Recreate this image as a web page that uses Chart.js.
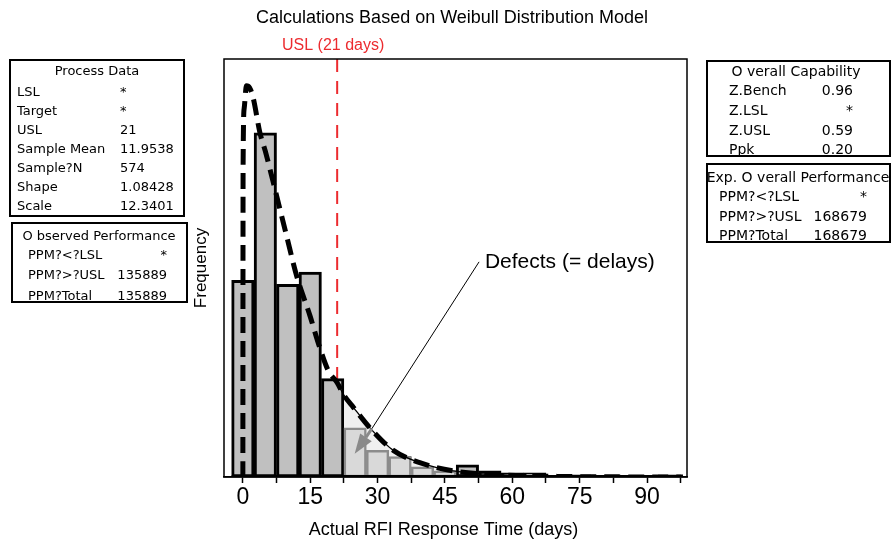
<!DOCTYPE html>
<html>
<head>
<meta charset="utf-8">
<script src="https://cdn.jsdelivr.net/npm/chart.js@4/dist/chart.umd.min.js"></script>
<style>
  html, body { margin: 0; padding: 0; background: #fff; }
  #wrap { position: relative; width: 892px; height: 542px; overflow: hidden; }
  #wrap canvas { position: absolute; left: 0; top: 0; }
  .box { position: absolute; border: 2px solid #000; box-sizing: border-box; }
  .txt { position: absolute; white-space: nowrap; line-height: 16px; font-family: "DejaVu Sans", sans-serif; color: #000; }
</style>
</head>
<body>
<div id="wrap"><canvas id="rfiChart" width="892" height="542"></canvas></div>
<script>
  // histogram bins (days) and counts
  const binCenters = [0, 5, 10, 15, 20, 25, 30, 35, 40, 45, 50, 55, 60, 65, 70, 75, 80, 85, 90, 95];
  const binCounts = [96, 168, 94, 100, 48, 24, 13, 10, 5, 3, 6, 3, 2, 2, 0, 1, 0, 0, 0, 1];
  const binWidth = 5;

  // fitted weibull curve
  const curveX = [0, 0.05, 0.3, 0.8, 1.5, 2.3, 3.8, 5, 6.75, 8, 9.7, 12, 14.9, 17, 19, 21, 22.5, 24.6, 28.7, 33.5, 39.4, 46.8, 58, 70, 85, 98];
  const curveY = [0, 150, 180, 191, 190, 185, 168, 159, 144, 133, 118, 98, 79, 64, 52, 46, 40, 34, 23, 13, 7, 3, 1, 0.3, 0.05, 0];

  const USL = 21;
  const defectsEnd = 47.5;

  const xTicks = [0, 7.5, 15, 22.5, 30, 37.5, 45, 52.5, 60, 67.5, 75, 82.5, 90, 97.5];
  const xTickLabels = [0, 15, 30, 45, 60, 75, 90];

  const processData = [['LSL', '*'], ['Target', '*'], ['USL', '21'], ['Sample Mean', '11.9538'],
    ['Sample?N', '574'], ['Shape', '1.08428'], ['Scale', '12.3401']];
  const observedPerf = [['PPM?<?LSL', '*'], ['PPM?>?USL', '135889'], ['PPM?Total', '135889']];
  const overallCap = [['Z.Bench', '0.96'], ['Z.LSL', '*'], ['Z.USL', '0.59'], ['Ppk', '0.20']];
  const expPerf = [['PPM?<?LSL', '*'], ['PPM?>?USL', '168679'], ['PPM?Total', '168679']];

  // ---- side boxes (html text) ----
  const wrap = document.getElementById('wrap');
  function addText(txt, x, y, size, align) {
    const el = document.createElement('div');
    el.className = 'txt';
    el.textContent = txt;
    el.style.fontSize = size + 'px';
    el.style.top = (y - 8) + 'px';
    if (align === 'right') { el.style.right = (892 - x) + 'px'; }
    else if (align === 'center') { el.style.left = (x - 150) + 'px'; el.style.width = '300px'; el.style.textAlign = 'center'; }
    else { el.style.left = x + 'px'; }
    wrap.appendChild(el);
  }
  function makeBox(b, title, rows) {
    const el = document.createElement('div');
    el.className = 'box';
    el.style.left = b.left + 'px'; el.style.top = b.top + 'px';
    el.style.width = b.w + 'px'; el.style.height = b.h + 'px';
    wrap.appendChild(el);
    addText(title, b.titleX, b.titleY, b.size, 'center');
    rows.forEach((r, i) => {
      const y = b.rowY + i * b.gap;
      addText(r[0], b.labelX, y, b.size);
      addText(r[1], b.valueX, y, b.size, b.valueAlign);
    });
  }
  makeBox({left: 9, top: 59, w: 176, h: 158, titleX: 97, titleY: 71, rowY: 92, gap: 19, labelX: 17, valueX: 120, size: 13},
    'Process Data', processData);
  makeBox({left: 11, top: 222, w: 177, h: 81, titleX: 99, titleY: 236, rowY: 255, gap: 20.3, labelX: 28, valueX: 167, valueAlign: 'right', size: 13},
    'O bserved Performance', observedPerf);
  makeBox({left: 706, top: 60, w: 185, h: 97, titleX: 796, titleY: 71, rowY: 90, gap: 19.8, labelX: 729, valueX: 853, valueAlign: 'right', size: 14},
    'O verall Capability', overallCap);
  makeBox({left: 706, top: 163, w: 185, h: 80, titleX: 798, titleY: 177, rowY: 196, gap: 19.7, labelX: 719, valueX: 867, valueAlign: 'right', size: 14},
    'Exp. O verall Performance', expPerf);

  // ---- chart ----
  const histPoints = binCenters.map((c, i) => ({x: c, y: binCounts[i]}));
  const defectPoints = histPoints.filter(p => p.x - binWidth / 2 >= USL && p.x + binWidth / 2 <= defectsEnd);
  const curvePoints = curveX.map((v, i) => ({x: v, y: curveY[i]}));
  const tailCurve = curvePoints.filter(p => p.x >= USL);
  const tailFill = curvePoints.filter(p => p.x >= USL + 1.5 && p.x <= defectsEnd);
  const baseLine = [{x: binCenters[0] - binWidth / 2, y: 0}, {x: binCenters[binCenters.length - 1] + binWidth / 2, y: 0}];

  const annotation = {text: 'Defects (= delays)', textX: 53.9, textY: 105, lineX: 52.6, tailX: 28.7, tailY: 23.5, tipX: 24.9, tipY: 11.3};

  const decor = {
    id: 'decor',
    beforeDatasetsDraw(chart) {
      const {ctx, chartArea: a, scales: {x}} = chart;
      const px = x.getPixelForValue(USL);
      ctx.save();
      ctx.strokeStyle = '#ec2b2f';
      ctx.lineWidth = 2;
      ctx.setLineDash([13, 9]);
      ctx.beginPath();
      ctx.moveTo(px, a.top);
      ctx.lineTo(px, a.bottom);
      ctx.stroke();
      ctx.restore();
    },
    afterDatasetsDraw(chart) {
      const {ctx, chartArea: a, scales: {x, y}} = chart;
      ctx.save();
      ctx.strokeStyle = '#000';
      ctx.lineWidth = 1.5;
      ctx.strokeRect(a.left, a.top, a.right - a.left, a.bottom - a.top);

      // annotation
      const an = annotation;
      const ty = y.getPixelForValue(an.textY);
      ctx.lineWidth = 1;
      ctx.beginPath();
      ctx.moveTo(x.getPixelForValue(an.lineX), ty);
      ctx.lineTo(x.getPixelForValue(an.tailX), y.getPixelForValue(an.tailY));
      ctx.stroke();
      const bx = x.getPixelForValue(an.tailX), by = y.getPixelForValue(an.tailY);
      const hx = x.getPixelForValue(an.tipX), hy = y.getPixelForValue(an.tipY);
      const ang = Math.atan2(hy - by, hx - bx);
      const cx = hx - 20 * Math.cos(ang), cy = hy - 20 * Math.sin(ang);
      ctx.strokeStyle = '#8a8a8a';
      ctx.lineWidth = 3;
      ctx.beginPath(); ctx.moveTo(bx, by); ctx.lineTo(cx, cy); ctx.stroke();
      ctx.fillStyle = '#8a8a8a';
      ctx.beginPath();
      ctx.moveTo(hx, hy);
      ctx.lineTo(cx + 7 * Math.sin(ang), cy - 7 * Math.cos(ang));
      ctx.lineTo(cx - 7 * Math.sin(ang), cy + 7 * Math.cos(ang));
      ctx.closePath();
      ctx.fill();

      ctx.fillStyle = '#000';
      ctx.font = '21px "Liberation Sans", Arial, sans-serif';
      ctx.textBaseline = 'middle';
      ctx.textAlign = 'left';
      ctx.fillText(an.text, x.getPixelForValue(an.textX), ty);
      ctx.restore();
    },
    afterDraw(chart) {
      const {ctx, chartArea: a, scales: {x}} = chart;
      ctx.save();
      ctx.textAlign = 'center';
      ctx.textBaseline = 'middle';
      ctx.fillStyle = '#000';
      ctx.font = '18px "Liberation Sans", Arial, sans-serif';
      ctx.fillText('Calculations Based on Weibull Distribution Model', 452, 18);
      ctx.fillText('Actual RFI Response Time (days)', (a.left + a.right) / 2 - 12, 530);
      ctx.fillStyle = '#ec2b2f';
      ctx.font = '16px "Liberation Sans", Arial, sans-serif';
      ctx.fillText('USL (21 days)', x.getPixelForValue(USL) - 4, 46);
      ctx.restore();
    }
  };

  new Chart(document.getElementById('rfiChart'), {
    type: 'bar',
    data: {
      datasets: [
        {
          type: 'line', data: curvePoints, borderColor: '#000', borderWidth: 5, borderDash: [16, 8],
          pointRadius: 0, cubicInterpolationMode: 'monotone', fill: false, order: 0
        },
        {
          type: 'line', data: tailCurve, borderColor: '#000', borderWidth: 1.3,
          pointRadius: 0, cubicInterpolationMode: 'monotone', fill: false, order: 1
        },
        {
          type: 'line', data: baseLine, borderColor: '#000', borderWidth: 4, pointRadius: 0, fill: false, order: 2
        },
        {
          data: defectPoints, backgroundColor: '#d9d9d9', borderColor: '#8c8c8c', borderWidth: 2.5,
          borderSkipped: false, grouped: false, barPercentage: 1, categoryPercentage: 1, order: 3
        },
        {
          type: 'line', data: tailFill, borderWidth: 0, pointRadius: 0, backgroundColor: '#f0f0f0',
          cubicInterpolationMode: 'monotone', fill: 'origin', order: 4
        },
        {
          data: histPoints, backgroundColor: '#c0c0c0', borderColor: '#000', borderWidth: 3,
          borderSkipped: false, grouped: false, barPercentage: 1, categoryPercentage: 1, order: 5
        }
      ]
    },
    options: {
      responsive: false,
      animation: false,
      devicePixelRatio: 1,
      layout: { padding: { left: 187, top: 59, right: 205, bottom: 0 } },
      plugins: {
        legend: { display: false },
        title: { display: false },
        tooltip: { enabled: false }
      },
      scales: {
        x: {
          type: 'linear', min: -4.2, max: 98.9, offset: false,
          afterBuildTicks: s => { s.ticks = xTicks.map(v => ({value: v})); },
          afterFit: s => { s.height = 65; },
          grid: { display: true, offset: false, drawOnChartArea: false, drawTicks: true, tickLength: 6, tickColor: '#000', tickWidth: 1.5 },
          border: { display: true, color: '#000', width: 1.5 },
          ticks: {
            color: '#000', padding: 1, maxRotation: 0, autoSkip: false,
            font: { family: 'Liberation Sans', size: 23 },
            callback: v => xTickLabels.includes(v) ? String(v) : ''
          }
        },
        y: {
          min: 0, max: 204,
          afterFit: s => { s.width = 37; },
          grid: { display: false },
          border: { display: false },
          ticks: { display: false },
          title: { display: true, text: 'Frequency', color: '#000', font: { family: 'Liberation Sans', size: 17 }, padding: { top: 4, bottom: 0 } }
        }
      }
    },
    plugins: [decor]
  });
</script>
</body>
</html>
